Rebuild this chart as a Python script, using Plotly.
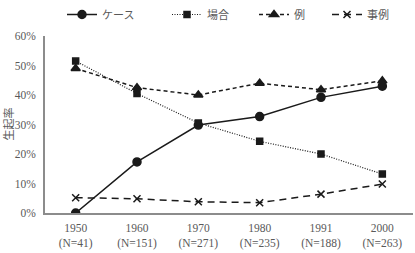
import plotly.graph_objects as go

categories = ["1950<br>(N=41)", "1960<br>(N=151)", "1970<br>(N=271)", "1980<br>(N=235)", "1991<br>(N=188)", "2000<br>(N=263)"]
case_vals = [0.0, 17.3, 29.8, 32.7, 39.2, 43.0]
baai_vals = [51.5, 40.5, 30.5, 24.3, 20.0, 13.2]
rei_vals = [49.0, 42.5, 40.0, 44.0, 41.8, 44.8]
jirei_vals = [5.2, 4.8, 3.8, 3.5, 6.4, 9.8]
names = ["ケース", "場合", "例", "事例"]
y_ticks = [0, 10, 20, 30, 40, 50, 60]
y_ticktext = [f"{v}%" for v in y_ticks]
y_title = "生起率"

FONT = "Liberation Serif, Noto Sans CJK JP, serif"
col = "#1a1a1a"
txt = "#595959"

L, R = 45, 413
def px(x):
    return (x - L) / (R - L)

fig = go.Figure()
specs = [
    (case_vals, names[0], "solid", 1.5, "circle", 8, "legend", 62),
    (baai_vals, names[1], "1px,1.5px", 1.2, "square", 6, "legend2", 167),
    (rei_vals, names[2], "4px,3px", 1.5, "triangle-up", 8, "legend3", 254),
    (jirei_vals, names[3], "7px,5px", 1.5, "x-thin-open", 7, "legend4", 327),
]
legends = {}
for vals, nm, dash, w, sym, sz, lg, lx in specs:
    fig.add_trace(go.Scatter(
        x=categories, y=vals, name=nm, mode="lines+markers", legend=lg,
        line=dict(color=col, width=w, dash=dash),
        marker=dict(symbol=sym, size=sz, color=col, line=dict(color=col, width=1.5)),
    ))
    legends[lg] = dict(orientation="h", x=px(lx), xanchor="left", y=1.0, yanchor="top",
                       yref="container", font=dict(size=11, color=txt, family="Noto Sans CJK JP"),
                       bgcolor="rgba(0,0,0,0)")

fig.add_annotation(text=y_title, textangle=-90, xref="paper", yref="paper",
                   x=px(7), y=0.5, xanchor="center", yanchor="middle", showarrow=False,
                   font=dict(size=11, family="Noto Sans CJK JP", color=txt))

fig.update_layout(
    width=415, height=253,
    margin=dict(l=L, r=415 - R, t=36, b=40),
    paper_bgcolor="white", plot_bgcolor="white",
    font=dict(family=FONT, size=11.5, color=txt),
    showlegend=True,
    **legends,
    xaxis=dict(type="category", showline=True, linecolor="#8c8c8c", linewidth=1.5,
               ticks="", showgrid=False, range=[-0.5, 5.5], ticklabelstandoff=3),
    yaxis=dict(range=[0, 60], tickvals=y_ticks, ticktext=y_ticktext,
               showline=True, linecolor="#8c8c8c", linewidth=1.5, showgrid=False,
               ticks="", zeroline=False, ticklabelstandoff=5),
)
fig.write_html("out.html")
